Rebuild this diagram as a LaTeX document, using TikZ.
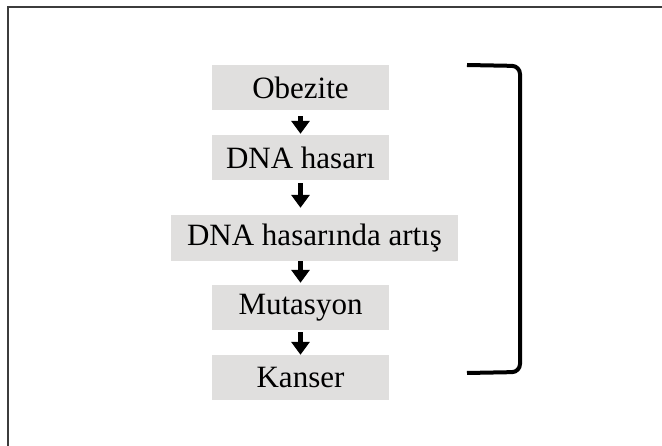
\documentclass[tikz,border=0pt]{standalone}
\usepackage{fontspec}
\setmainfont{Liberation Serif}
\usetikzlibrary{arrows.meta}
\definecolor{boxgray}{RGB}{224,223,222}
\definecolor{framegray}{RGB}{60,60,60}
\begin{document}
\begin{tikzpicture}[x=1pt,y=-1pt,
  box/.style={fill=boxgray, minimum height=45pt, inner sep=0pt, font=\fontsize{31}{35}\selectfont},
  flow/.style={line width=5pt, -{Triangle[width=18pt,length=13pt]}},
  bracketline/.style={line width=4pt, rounded corners=8pt},
  framerule/.style={line width=1.5pt, draw=framegray}]
\useasboundingbox (0,0) rectangle (662,446);
\draw[framerule] (8,446) -- (8,7) -- (662,7);
\node[box, minimum width=177pt] (obez) at (300.5,87.5) {Obezite};
\node[box, minimum width=177pt] (dna) at (300.5,157.5) {DNA hasarı};
\node[box, minimum width=287pt, minimum height=46pt] (artis) at (314.5,238) {DNA hasarında artış};
\node[box, minimum width=177pt] (mut) at (300.5,307.5) {Mutasyon};
\node[box, minimum width=177pt] (kanser) at (300.5,377.5) {Kanser};
\draw[flow, shorten <=6pt, shorten >=1pt] (obez.south) -- (dna.north);
\draw[flow, shorten <=3pt, shorten >=7pt] (dna.south) -- (dna.south |- artis.north);
\draw[flow, shorten <=0pt, shorten >=2pt] (artis.south -| mut.north) -- (mut.north);
\draw[flow, shorten <=2pt, shorten >=0pt] (mut.south) -- (kanser.north);
\coordinate (b1) at (467,65);
\coordinate (b2) at (520,66);
\coordinate (b3) at (520,372);
\coordinate (b4) at (467,373);
\draw[bracketline] (b1) -- (b2) -- (b3) -- (b4);
\end{tikzpicture}
\end{document}
